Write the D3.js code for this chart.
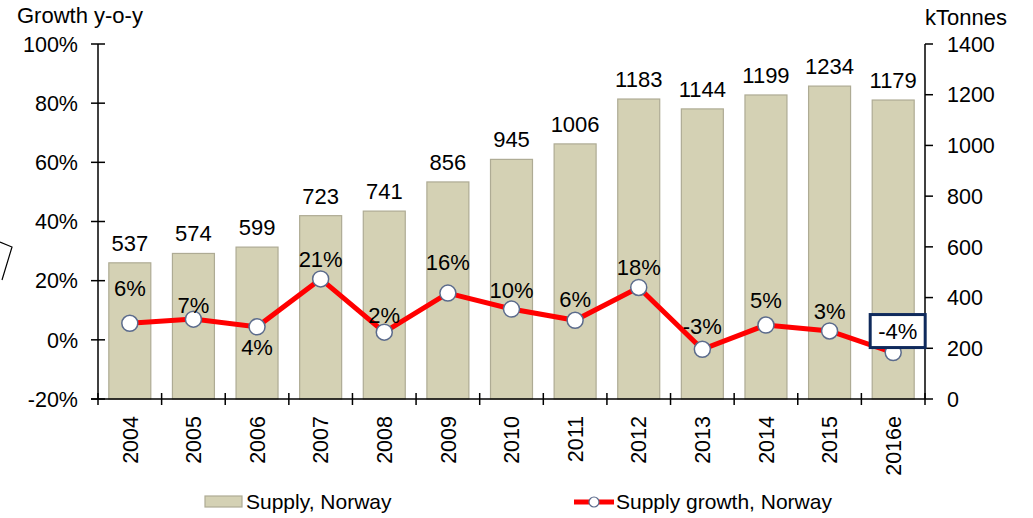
<!DOCTYPE html>
<html>
<head>
<meta charset="utf-8">
<script src="https://cdn.jsdelivr.net/npm/d3@7"></script>
<style>
	body { margin: 0; background: #fff; }
	svg { display: block; font-family: "Liberation Sans", Arial, sans-serif; }
</style>
</head>
<body>
<svg id="chart"></svg>
<script>
// chart data
const years = ['2004', '2005', '2006', '2007', '2008', '2009', '2010', '2011', '2012', '2013', '2014', '2015', '2016e'];
const supply = [537, 574, 599, 723, 741, 856, 945, 1006, 1183, 1144, 1199, 1234, 1179];
const growth = [5.6, 7.0, 4.4, 20.6, 2.6, 15.8, 10.4, 6.6, 17.7, -3.2, 5.0, 3.0, -4.3];
const growthLabels = ['6%', '7%', '4%', '21%', '2%', '16%', '10%', '6%', '18%', '-3%', '5%', '3%', '-4%'];
const leftTicks = [-20, 0, 20, 40, 60, 80, 100];
const rightTicks = [0, 200, 400, 600, 800, 1000, 1200, 1400];

// label placement (pixels above point, negative = below)
const labelOffset = [35, 14, -20, 20, 17, 31, 19, 21, 20, 23, 25, 20, 21];

const W = 1033, H = 518, FONT = 'Liberation Sans, Arial, sans-serif';
const BAR_FILL = '#d4d1b4', BAR_STROKE = '#aeab94', LINE_COLOR = '#ff0000';
const plot = { left: 98, right: 925, top: 44, bottom: 399 };

const svg = d3.select('#chart').attr('width', W).attr('height', H);

const x = d3.scaleBand().domain(years).range([plot.left, plot.right])
	.paddingInner(0.34).paddingOuter(0.17);
const yL = d3.scaleLinear().domain([-20, 100]).range([plot.bottom, plot.top]);
const yR = d3.scaleLinear().domain([0, 1400]).range([plot.bottom, plot.top]);

// bars
svg.append('g').selectAll('rect').data(supply).join('rect')
	.attr('x', (d, i) => x(years[i]))
	.attr('y', d => yR(d))
	.attr('width', x.bandwidth())
	.attr('height', d => yR(0) - yR(d))
	.attr('fill', BAR_FILL)
	.attr('stroke', BAR_STROKE)
	.attr('stroke-width', 1.2);

// bar value labels
svg.append('g').selectAll('text').data(supply).join('text')
	.attr('x', (d, i) => x(years[i]) + x.bandwidth() / 2)
	.attr('y', d => yR(d) - 12)
	.attr('text-anchor', 'middle')
	.attr('font-size', '22px')
	.attr('fill', '#000')
	.text(d => d);

// left axis
const axL = svg.append('g');
axL.append('line').attr('x1', plot.left).attr('x2', plot.left)
	.attr('y1', plot.top).attr('y2', plot.bottom).attr('stroke', '#000').attr('stroke-width', 1.5);
axL.selectAll('line.tick').data(leftTicks).join('line').attr('class', 'tick')
	.attr('x1', plot.left - 7).attr('x2', plot.left + 7)
	.attr('y1', d => yL(d)).attr('y2', d => yL(d))
	.attr('stroke', '#000').attr('stroke-width', 1.5);
axL.selectAll('text').data(leftTicks).join('text')
	.attr('x', 78).attr('y', d => yL(d)).attr('dy', '0.36em')
	.attr('text-anchor', 'end').attr('font-size', '21.5px')
	.text(d => d + '%');

// right axis
const axR = svg.append('g');
axR.append('line').attr('x1', plot.right).attr('x2', plot.right)
	.attr('y1', plot.top).attr('y2', plot.bottom).attr('stroke', '#000').attr('stroke-width', 1.5);
axR.selectAll('line.tick').data(rightTicks).join('line').attr('class', 'tick')
	.attr('x1', plot.right).attr('x2', plot.right + 8)
	.attr('y1', d => yR(d)).attr('y2', d => yR(d))
	.attr('stroke', '#000').attr('stroke-width', 1.5);
axR.selectAll('text').data(rightTicks).join('text')
	.attr('x', 947).attr('y', d => yR(d)).attr('dy', '0.36em')
	.attr('text-anchor', 'start').attr('font-size', '21.5px')
	.text(d => d);

// bottom axis
const axB = svg.append('g');
axB.append('line').attr('x1', plot.left - 7).attr('x2', plot.right)
	.attr('y1', plot.bottom).attr('y2', plot.bottom).attr('stroke', '#000').attr('stroke-width', 1.5);
axB.selectAll('line.tick').data(d3.range(years.length + 1)).join('line').attr('class', 'tick')
	.attr('x1', i => plot.left + i * x.step()).attr('x2', i => plot.left + i * x.step())
	.attr('y1', plot.bottom - 6).attr('y2', plot.bottom + 6)
	.attr('stroke', '#000').attr('stroke-width', 1.5);
axB.selectAll('text').data(years).join('text')
	.attr('transform', d => `translate(${x(d) + x.bandwidth() / 2},416) rotate(-90)`)
	.attr('dy', '0.36em')
	.attr('text-anchor', 'end').attr('font-size', '21.5px')
	.text(d => d);

// axis titles
svg.append('text').attr('x', 17).attr('y', 23).attr('font-size', '22px').text('Growth y-o-y');
svg.append('text').attr('x', 925).attr('y', 25).attr('font-size', '22px').text('kTonnes');

// growth line
const line = d3.line()
	.x((d, i) => x(years[i]) + x.bandwidth() / 2)
	.y(d => yL(d));
svg.append('path').datum(growth)
	.attr('d', line)
	.attr('fill', 'none')
	.attr('stroke', LINE_COLOR)
	.attr('stroke-width', 5)
	.attr('stroke-linejoin', 'miter');

svg.append('g').selectAll('circle').data(growth).join('circle')
	.attr('cx', (d, i) => x(years[i]) + x.bandwidth() / 2)
	.attr('cy', d => yL(d))
	.attr('r', 8)
	.attr('fill', '#fff')
	.attr('stroke', '#5b6b8c')
	.attr('stroke-width', 1.5);

// growth labels
const gl = svg.append('g');
growth.forEach((g, i) => {
	const cx = x(years[i]) + x.bandwidth() / 2;
	const cy = yL(g) - labelOffset[i];
	const last = i === growth.length - 1;
	if (last) {
		gl.append('rect')
			.attr('x', cx - 23).attr('y', cy - 17)
			.attr('width', 55).attr('height', 33)
			.attr('fill', '#fff')
			.attr('stroke', '#0f2a5c')
			.attr('stroke-width', 3);
	}
	gl.append('text')
		.attr('x', last ? cx + 4.5 : cx).attr('y', cy).attr('dy', '0.36em')
		.attr('text-anchor', 'middle')
		.attr('font-size', '22px')
		.text(growthLabels[i]);
});

// stray shape at left edge
svg.append('path')
	.attr('d', 'M0,242 L12,247 L2,280')
	.attr('fill', 'none').attr('stroke', '#000').attr('stroke-width', 1.2);

// legend
const lg = svg.append('g');
lg.append('rect').attr('x', 205).attr('y', 496).attr('width', 37).attr('height', 11)
	.attr('fill', BAR_FILL).attr('stroke', BAR_STROKE).attr('stroke-width', 1.2);
lg.append('text').attr('x', 246).attr('y', 509).attr('font-size', '21px').text('Supply, Norway');
lg.append('line').attr('x1', 574).attr('x2', 614).attr('y1', 502).attr('y2', 502)
	.attr('stroke', LINE_COLOR).attr('stroke-width', 5);
lg.append('circle').attr('cx', 594).attr('cy', 502).attr('r', 5)
	.attr('fill', '#fff').attr('stroke', '#5b6b8c').attr('stroke-width', 1.2);
lg.append('text').attr('x', 616).attr('y', 509).attr('font-size', '21px').text('Supply growth, Norway');
</script>
</body>
</html>
